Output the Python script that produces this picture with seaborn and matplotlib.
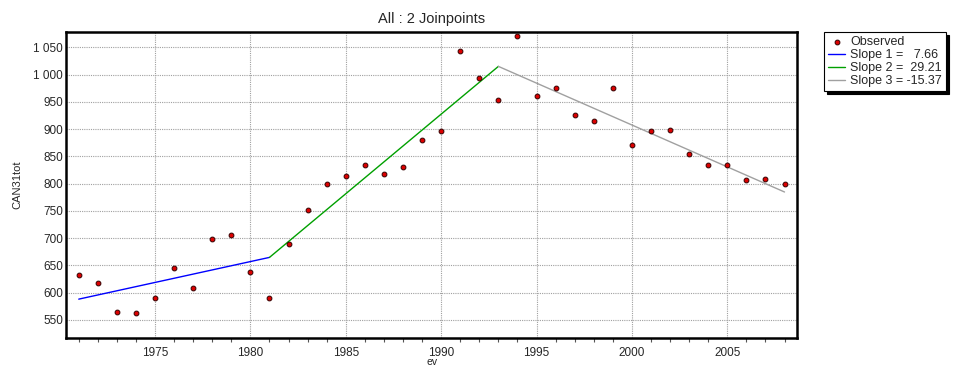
import matplotlib
matplotlib.use('Agg')
import matplotlib.pyplot as plt
from matplotlib.ticker import FuncFormatter, MultipleLocator
import seaborn as sns
import pandas as pd

# observed values
years = list(range(1971, 2009))
observed = [632, 618, 565, 563, 591, 646, 608, 698, 706, 637,
            591, 689, 752, 800, 814, 834, 818, 830, 880, 896,
            1043, 993, 954, 1071, 960, 976, 926, 914, 976, 871,
            897, 899, 854, 834, 835, 806, 809, 799]

# joinpoint segments (end points of each fitted segment)
seg_years = [[1971, 1981], [1981, 1993], [1993, 2008]]
seg_fit = [[588.0, 664.6], [664.6, 1015.1], [1015.1, 784.6]]
slopes = [7.66, 29.21, -15.37]
seg_colors = ['#0000ff', '#00a000', '#a0a0a0']
slope_labels = ['Slope 1 =   7.66', 'Slope 2 =  29.21', 'Slope 3 = -15.37']

sns.set_style('white')
plt.rcParams['font.family'] = ['Liberation Sans', 'DejaVu Sans']

fig = plt.figure(figsize=(9.56, 3.67), dpi=100)
ax = fig.add_axes([0.069, 0.078, 0.765, 0.836])

df = pd.DataFrame({'year': years, 'value': observed})

for i in range(3):
    seg = pd.DataFrame({'year': seg_years[i], 'fit': seg_fit[i]})
    sns.lineplot(data=seg, x='year', y='fit', ax=ax, color=seg_colors[i],
                 linewidth=1.0, label=slope_labels[i], zorder=2)

sns.scatterplot(data=df, x='year', y='value', ax=ax, color='#dd0000',
                edgecolor='#330000', linewidth=0.7, s=12, label='Observed',
                zorder=3)

ax.set_xlim(1970.33, 2008.67)
ax.set_ylim(516, 1079)
ax.xaxis.set_major_locator(MultipleLocator(5))
ax.xaxis.set_minor_locator(MultipleLocator(1))
ax.yaxis.set_major_locator(MultipleLocator(50))
ax.yaxis.set_major_formatter(FuncFormatter(lambda v, p: f'{int(v):,}'.replace(',', ' ')))

ax.grid(True, which='major', linestyle=(0, (1, 1)), color='#a0a0a0', linewidth=0.8)
ax.tick_params(axis='x', which='major', length=4, width=0.8, direction='out',
               labelsize=8.5, pad=2, color='#555555')
ax.tick_params(axis='x', which='minor', length=3, width=0.8, direction='out',
               color='#555555', bottom=True)
ax.tick_params(axis='y', length=0, labelsize=8.5, pad=2)

for sp in ax.spines.values():
    sp.set_linewidth(1.8)
    sp.set_color('black')

ax.set_title('All : 2 Joinpoints', fontsize=10.5, pad=6)
ax.set_xlabel('ev', fontsize=7.5, labelpad=-1)
ax.set_ylabel('CAN31tot', fontsize=8, labelpad=8)

handles, labels = ax.get_legend_handles_labels()
order = [3, 0, 1, 2]
leg = ax.legend([handles[k] for k in order], [labels[k] for k in order],
                loc='upper left', bbox_to_anchor=(0.862, 0.912),
                bbox_transform=fig.transFigure, fontsize=9, frameon=True,
                fancybox=False, shadow={'color': 'black', 'alpha': 1},
                borderpad=0.3, labelspacing=0.08, handlelength=1.4,
                handletextpad=0.4, borderaxespad=0)
leg.get_frame().set_edgecolor('black')
leg.get_frame().set_linewidth(0.8)

fig.savefig('out.png', dpi=100)
